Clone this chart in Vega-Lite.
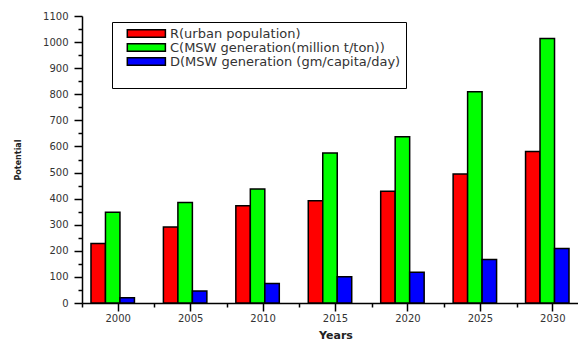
{
  "$schema": "https://vega.github.io/schema/vega-lite/v6.json",
  "width": 496,
  "height": 287,
  "autosize": "none",
  "padding": {"left": 82, "top": 16, "right": 0, "bottom": 37},
  "background": "white",
  "data": {
    "values": [
      {"year": "2000", "series": "R(urban population)", "value": 228},
      {"year": "2000", "series": "C(MSW generation(million t/ton))", "value": 348},
      {"year": "2000", "series": "D(MSW generation (gm/capita/day)", "value": 20},
      {"year": "2005", "series": "R(urban population)", "value": 291},
      {"year": "2005", "series": "C(MSW generation(million t/ton))", "value": 385},
      {"year": "2005", "series": "D(MSW generation (gm/capita/day)", "value": 46},
      {"year": "2010", "series": "R(urban population)", "value": 373},
      {"year": "2010", "series": "C(MSW generation(million t/ton))", "value": 437},
      {"year": "2010", "series": "D(MSW generation (gm/capita/day)", "value": 75},
      {"year": "2015", "series": "R(urban population)", "value": 392},
      {"year": "2015", "series": "C(MSW generation(million t/ton))", "value": 575},
      {"year": "2015", "series": "D(MSW generation (gm/capita/day)", "value": 101},
      {"year": "2020", "series": "R(urban population)", "value": 428},
      {"year": "2020", "series": "C(MSW generation(million t/ton))", "value": 637},
      {"year": "2020", "series": "D(MSW generation (gm/capita/day)", "value": 118},
      {"year": "2025", "series": "R(urban population)", "value": 494},
      {"year": "2025", "series": "C(MSW generation(million t/ton))", "value": 810},
      {"year": "2025", "series": "D(MSW generation (gm/capita/day)", "value": 167},
      {"year": "2030", "series": "R(urban population)", "value": 581},
      {"year": "2030", "series": "C(MSW generation(million t/ton))", "value": 1014},
      {"year": "2030", "series": "D(MSW generation (gm/capita/day)", "value": 209}
    ]
  },
  "layer": [
    {
      "mark": {"type": "bar", "stroke": "black", "strokeWidth": 1.5},
      "encoding": {
        "x": {
          "field": "year",
          "type": "nominal",
          "scale": {"range": [0, 507], "paddingInner": 0, "paddingOuter": 0},
          "axis": {
            "labelAngle": 0,
            "tickSize": 8,
            "tickColor": "black",
            "tickWidth": 1.5,
            "domainColor": "black",
            "domainWidth": 1.5,
            "labelFont": "DejaVu Sans",
            "labelFontSize": 10,
            "labelColor": "#333",
            "labelPadding": 2,
            "title": "Years",
            "titleFont": "DejaVu Sans",
            "titleFontSize": 11,
            "titleFontWeight": "bold",
            "titleColor": "#222",
            "titlePadding": 6
          }
        },
        "xOffset": {
          "field": "series",
          "type": "nominal",
          "scale": {
            "domain": ["R(urban population)", "C(MSW generation(million t/ton))", "D(MSW generation (gm/capita/day)"],
            "paddingInner": 0,
            "paddingOuter": 1,
            "align": 0.31
          }
        },
        "y": {
          "field": "value",
          "type": "quantitative",
          "scale": {"domain": [0, 1100], "nice": false},
          "axis": {
            "values": [0, 50, 100, 150, 200, 250, 300, 350, 400, 450, 500, 550, 600, 650, 700, 750, 800, 850, 900, 950, 1000, 1050, 1100],
            "format": "d",
            "labelExpr": "datum.value % 100 === 0 ? datum.label : ''",
            "tickSize": {"condition": {"test": "datum.value % 100 === 0", "value": 8}, "value": 4},
            "domainColor": "black",
            "domainWidth": 1.5,
            "tickColor": "black",
            "tickWidth": 1.5,
            "labelFont": "DejaVu Sans",
            "labelFontSize": 10,
            "labelColor": "#333",
            "labelPadding": 6,
            "grid": false,
            "title": "Potential",
            "titleFont": "DejaVu Sans",
            "titleFontSize": 8,
            "titleFontWeight": "bold",
            "titleColor": "#222",
            "titlePadding": 20
          }
        },
        "color": {
          "field": "series",
          "type": "nominal",
          "scale": {
            "domain": ["R(urban population)", "C(MSW generation(million t/ton))", "D(MSW generation (gm/capita/day)"],
            "range": ["#ff0000", "#00ff00", "#0000ff"]
          },
          "legend": {
            "orient": "none",
            "legendX": 30,
            "legendY": 6,
            "title": " ",
            "titleOrient": "bottom",
            "titleFontSize": 14,
            "titlePadding": 0,
            "padding": 5,
            "strokeColor": "black",
            "fillColor": "white",
            "symbolType": "M1,-1H11V1H1Z",
            "symbolSize": 58,
            "symbolStrokeColor": "black",
            "symbolStrokeWidth": 1.5,
            "symbolOpacity": 1,
            "labelFont": "DejaVu Sans",
            "labelFontSize": 13,
            "labelColor": "#333",
            "labelOffset": 40,
            "rowPadding": -2,
            "labelLimit": 400
          }
        }
      }
    },
    {
      "mark": {"type": "bar", "opacity": 0},
      "encoding": {
        "x": {
          "field": "year",
          "type": "nominal",
          "axis": {
            "orient": "bottom",
            "tickBand": "extent",
            "labels": false,
            "domain": false,
            "tickSize": 4,
            "tickWidth": 1.5,
            "tickColor": "black",
            "title": null
          }
        }
      }
    }
  ],
  "resolve": {"axis": {"x": "independent"}},
  "config": {"view": {"stroke": null}}
}
